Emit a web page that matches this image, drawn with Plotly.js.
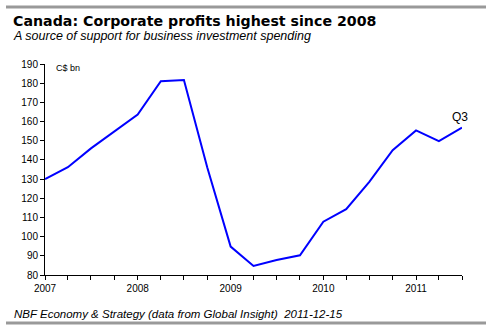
<!DOCTYPE html>
<html>
<head>
<meta charset="utf-8">
<script src="https://cdn.plot.ly/plotly-3.0.1.min.js"></script>
<style>html,body{margin:0;padding:0;background:#fff;}#chart{width:500px;height:333px;}</style>
</head>
<body>
<div id="chart"></div>
<script>
const quarters = ["2007-01-01","2007-04-01","2007-07-01","2007-10-01",
  "2008-01-01","2008-04-01","2008-07-01","2008-10-01",
  "2009-01-01","2009-04-01","2009-07-01","2009-10-01",
  "2010-01-01","2010-04-01","2010-07-01","2010-10-01",
  "2011-01-01","2011-04-01","2011-07-01"];
const profits = [130, 136.2, 146, 155, 163.7, 181, 181.6, 136, 94.8, 84.7, 87.8, 90.3,
  107.8, 114.3, 128.6, 145.1, 155.4, 149.8, 156.8];
const yearTicks = ["2007-01-01","2008-01-01","2009-01-01","2010-01-01","2011-01-01"];
const yearLabels = ["2007","2008","2009","2010","2011"];

const W = 500, H = 333, L = 45, R = 38, T = 64, B = 58;
const px = x => (x - L) / (W - L - R);
const py = y => (H - B - y) / (H - T - B);
const font = "Liberation Sans, Arial, sans-serif";

const trace = {
  x: quarters, y: profits, type: "scatter", mode: "lines",
  line: {color: "#0000ff", width: 2}, hoverinfo: "skip"
};

const layout = {
  width: W, height: H,
  margin: {l: L, r: R, t: T, b: B},
  paper_bgcolor: "#fff", plot_bgcolor: "#fff",
  showlegend: false,
  font: {family: font, size: 10, color: "#000"},
  xaxis: {
    type: "date", range: ["2007-01-01", "2011-07-01"],
    tickvals: yearTicks, ticktext: yearLabels,
    ticks: "outside", ticklen: 4, tickcolor: "#000",
    showline: true, linecolor: "#000", linewidth: 1,
    showgrid: false, zeroline: false,
    tickfont: {family: font, size: 10, color: "#000"},
    minor: {dtick: "M3", tick0: "2007-01-01", ticks: "outside", ticklen: 4, tickcolor: "#000", showgrid: false}
  },
  yaxis: {
    range: [80, 190], dtick: 10, tick0: 80,
    ticks: "outside", ticklen: 4, tickcolor: "#000",
    showline: true, linecolor: "#000", linewidth: 1,
    showgrid: false, zeroline: false,
    tickfont: {family: font, size: 10, color: "#000"}
  },
  shapes: [
    {type: "line", xref: "paper", yref: "paper", x0: px(6), x1: px(486), y0: py(7), y1: py(7),
     line: {color: "#999", width: 3}},
    {type: "line", xref: "paper", yref: "paper", x0: px(6), x1: px(486), y0: py(323), y1: py(323),
     line: {color: "#999", width: 3}}
  ],
  annotations: [
    {text: "<b>Canada: Corporate profits highest since 2008</b>", xref: "paper", yref: "paper",
     x: px(11), y: py(21), xanchor: "left", yanchor: "middle", showarrow: false,
     font: {family: "DejaVu Sans, sans-serif", size: 14.2, color: "#000"}},
    {text: "<i>A source of support for business investment spending</i>", xref: "paper", yref: "paper",
     x: px(11), y: py(36), xanchor: "left", yanchor: "middle", showarrow: false,
     font: {family: font, size: 12.5, color: "#000"}},
    {text: "<i>NBF Economy & Strategy (data from Global Insight)  2011-12-15</i>", xref: "paper", yref: "paper",
     x: px(12), y: py(314), xanchor: "left", yanchor: "middle", showarrow: false,
     font: {family: font, size: 11.5, color: "#000"}},
    {text: "C$ bn", xref: "paper", yref: "paper",
     x: px(54), y: py(68), xanchor: "left", yanchor: "middle", showarrow: false,
     font: {family: font, size: 9, color: "#000"}},
    {text: "Q3", x: quarters[quarters.length - 1], y: profits[profits.length - 1],
     xref: "x", yref: "y", xanchor: "center", yanchor: "bottom", yshift: 2, xshift: -2, showarrow: false,
     font: {family: font, size: 12, color: "#000"}}
  ]
};

Plotly.newPlot("chart", [trace], layout, {staticPlot: true, displayModeBar: false});
</script>
</body>
</html>
